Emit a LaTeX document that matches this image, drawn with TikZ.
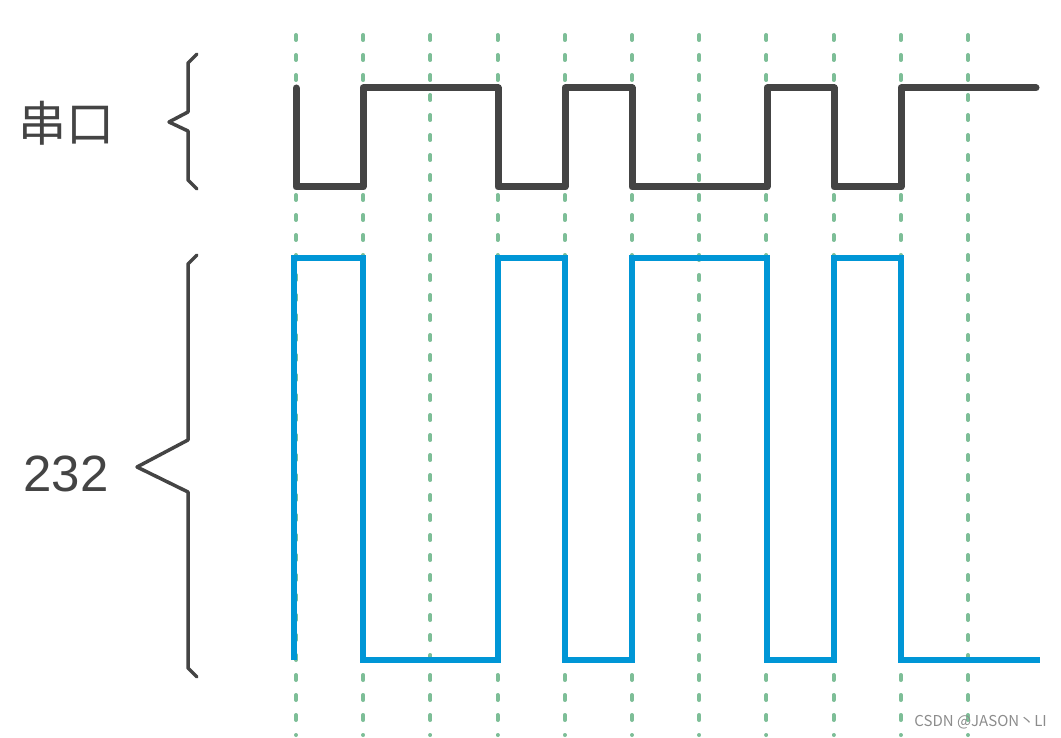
\documentclass[tikz,border=0pt]{standalone}
\usepackage{fontspec}
\setmainfont{Liberation Sans}
\newfontfamily\cjkfont{Noto Sans CJK SC}
\usetikzlibrary{positioning}
\definecolor{sigdark}{HTML}{444444}
\definecolor{sigblue}{HTML}{0096D6}
\definecolor{tickgreen}{HTML}{7DBE97}

\begin{document}
\begin{tikzpicture}[
    x=1pt, y=-1pt,
    tick/.style={tickgreen, line width=4pt, line cap=round, dash pattern=on 5pt off 15pt},
    uart/.style={sigdark, line width=7pt, line join=round, line cap=round},
    rs/.style={sigblue, line width=6.5pt, line join=miter},
    brace/.style={sigdark, line width=3.5pt, line join=round, line cap=round},
    lbl/.style={text=sigdark, inner sep=0pt},
]
\useasboundingbox (0,0) rectangle (1061,738);

% Bit clock
\foreach \k in {0,...,10}
    \draw[tick] ({296+67.2*\k},35) -- ({296+67.2*\k},735);

% Serial (TTL) level
\draw[uart] (296,88) -- (296,187) -- (363,187) -- (363,88) -- (498,88) -- (498,187)
    -- (565,187) -- (565,88) -- (632,88) -- (632,187) -- (767,187) -- (767,88)
    -- (834,88) -- (834,187) -- (901,187) -- (901,88) -- (1036,88);

% RS-232 level (inverted)
\draw[rs] (294,660) -- (294,258) -- (363,258) -- (363,660) -- (498,660) -- (498,258)
    -- (565,258) -- (565,660) -- (632,660) -- (632,258) -- (767,258) -- (767,660)
    -- (834,660) -- (834,258) -- (901,258) -- (901,660) -- (1040,660);

% Labels
\node[lbl, font=\cjkfont\fontsize{48}{48}\selectfont] (uartlbl) at (66,123) {串口};
\node[lbl, font=\fontsize{51}{51}\selectfont] (rslbl) at (66,474) {232};

% Braces
\draw[brace] (197,54) -- (188,63) -- (188,112) -- (169,122) -- (188,131) -- (188,180) -- (197,189);
\draw[brace] (197,255) -- (188,264) -- (188,440) -- (137,467) -- (188,492) -- (188,668) -- (197,677);

\node[anchor=east, inner sep=0pt, text=black!45, font=\cjkfont\fontsize{15}{15}\selectfont] (mark) at (1047,722) {CSDN @JASON丶LI};
\end{tikzpicture}
\end{document}
